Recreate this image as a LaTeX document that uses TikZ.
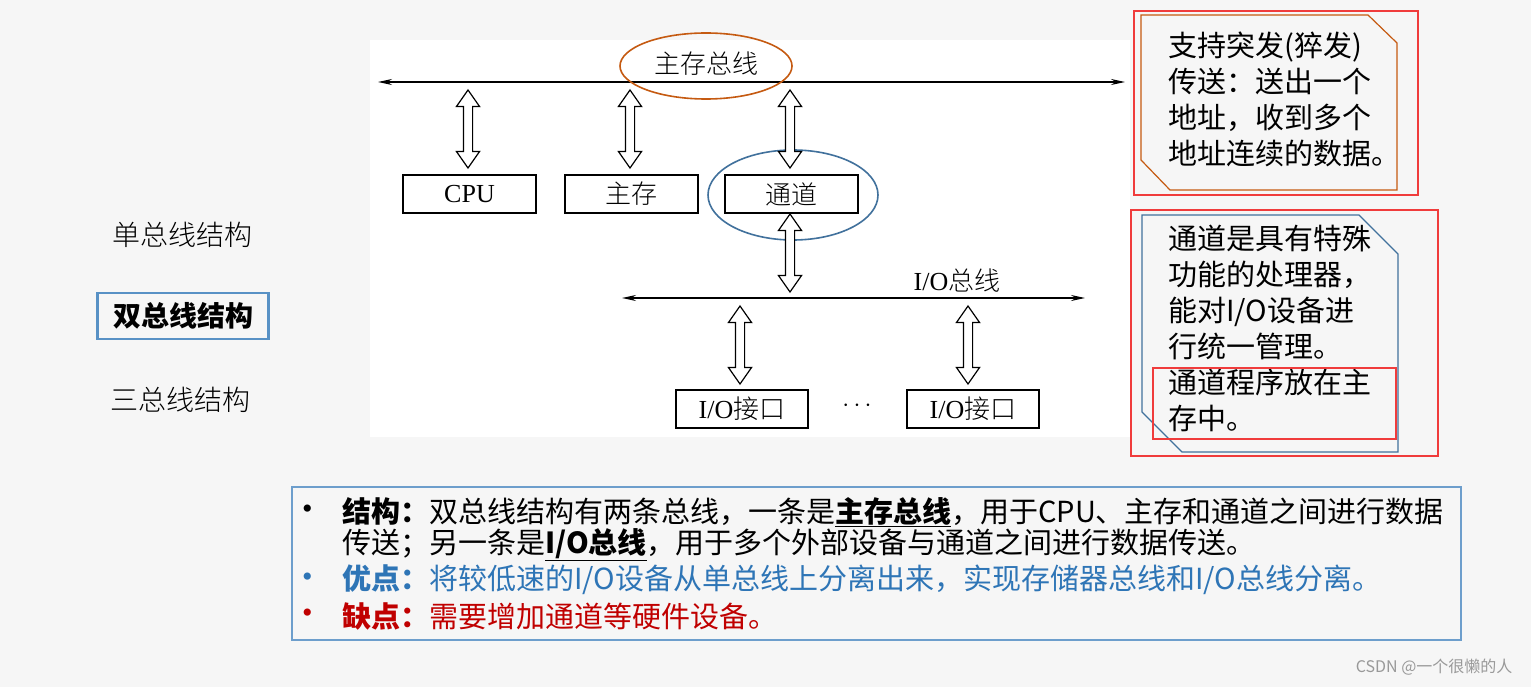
\documentclass[tikz,border=0pt]{standalone}
\usepackage{fontspec}
\setmainfont{Liberation Serif}
\newfontfamily\cjk{Noto Sans CJK SC}
\newfontfamily\cjkl{Noto Sans CJK SC Light}
\usetikzlibrary{shapes.arrows,arrows.meta}
\definecolor{bg}{HTML}{F6F6F6}
\definecolor{orng}{HTML}{C55A11}
\definecolor{blu}{HTML}{41719C}
\definecolor{redb}{HTML}{F03C3C}
\definecolor{txtblue}{HTML}{2E75B6}
\definecolor{txtred}{HTML}{C00000}
\begin{document}
\begin{tikzpicture}[x=1pt,y=-1pt,
  fat/.style={double arrow,draw,line width=1.2pt,fill=white,inner xsep=0pt,inner ysep=4pt,
     double arrow head extend=7pt,double arrow tip angle=70,rotate=90,minimum height=#1},
  box/.style={draw,line width=1.3pt,minimum width=133pt,minimum height=38pt,inner sep=0pt,font=\fontsize{26}{28}\selectfont},
  bus/.style={line width=1.3pt,{Stealth[length=14pt,width=6pt]}-{Stealth[length=14pt,width=6pt]}},
  lbl/.style={font=\cjkl\fontsize{28}{30}\selectfont},
  call/.style={align=left,anchor=north west,inner sep=0pt,font=\cjk\fontsize{29}{36}\selectfont},
  btxt/.style={anchor=west,inner sep=0pt,font=\cjk\fontsize{29}{30}\selectfont}]
\useasboundingbox (0,0) rectangle (1531,687);
\fill[bg] (0,0) rectangle (1531,687);
\fill[white] (370,40) rectangle (1130,437);
% main bus
\coordinate (mbL) at (378,82); \coordinate (mbR) at (1125,82);
\draw[bus] (mbL) -- (mbR);
\draw[orng,line width=1.6pt] (706,66) ellipse [x radius=86,y radius=33];
\node[font=\cjkl\fontsize{26}{28}\selectfont] (mbl) at (706,64) {主存总线};
% boxes
\node[box] (cpu) at (469.5,194) {CPU};
\node[box,font=\cjkl\fontsize{26}{28}\selectfont] (mem) at (631.5,194) {主存};
\node[box,font=\cjkl\fontsize{26}{28}\selectfont] (ch) at (791.5,194) {通道};
\draw[blu,line width=1.6pt] (793,195) ellipse [x radius=85,y radius=45];
\node[fat=78pt] (a1) at (468,129) {};
\node[fat=78pt] (a2) at (630,129) {};
\node[fat=78pt] (a3) at (790,129) {};
\node[fat=78pt] (a4) at (790,253) {};
% io bus
\coordinate (ibL) at (622,298); \coordinate (ibR) at (1085,298);
\draw[bus] (ibL) -- (ibR);
\node[font=\fontsize{26}{28}\selectfont] (ibl) at (957,281) {I/O{\cjkl 总线}};
\node[fat=78pt] (a5) at (740,345) {};
\node[fat=78pt] (a6) at (968,345) {};
\node[box,minimum width=132pt] (io1) at (742,409) {I/O{\cjkl 接口}};
\node[box,minimum width=132pt] (io2) at (973,409) {I/O{\cjkl 接口}};
\node[font=\bfseries\fontsize{26}{28}\selectfont] (dots) at (857,406) {$\cdots$};
% left
\node[lbl] (s1) at (182,235) {单总线结构};
\node[lbl,font=\cjk\bfseries\fontsize{28}{30}\selectfont,draw=txtblue!80,line width=2.5pt,minimum width=171pt,minimum height=46pt,inner sep=0pt] (s2) at (183,316) {双总线结构};
\node[lbl] (s3) at (180,400) {三总线结构};
% callout 1
\draw[redb,line width=2.2pt] (1134,11) rectangle (1418,195);
\draw[orng,line width=1.2pt] (1141,15) -- (1368,15) -- (1397,43) -- (1397,190) -- (1170,190) -- (1141,160) -- cycle;
\node[call] (c1) at (1168,32) {支持突发(猝发)\\传送：送出一个\\地址，收到多个\\地址连续的数据。};
% callout 2
\draw[redb,line width=2.2pt] (1131,210) rectangle (1438,456);
\draw[blu,line width=1.2pt] (1142,215) -- (1359,215) -- (1398,254) -- (1398,452) -- (1182,452) -- (1142,412) -- cycle;
\node[call] (c2) at (1168,225) {通道是具有特殊\\功能的处理器，\\能对I/O设备进\\行统一管理。\\通道程序放在主\\存中。};
\draw[redb,line width=2.2pt] (1153,368) rectangle (1396,439);
% bottom box
\draw[txtblue!70,line width=1.2pt] (292,487) rectangle (1461,640);
\node[btxt,font=\fontsize{30}{30}\selectfont] (b1) at (302,512) {•};
\node[btxt] (l1) at (342,512) {\textbf{结构：}双总线结构有两条总线，一条是\underline{\textbf{主存总线}}，用于CPU、主存和通道之间进行数据};
\node[btxt] (l2) at (342,545) {传送；另一条是\underline{\textbf{I/O总线}}，用于多个外部设备与通道之间进行数据传送。};
\node[btxt,text=txtblue,font=\fontsize{30}{30}\selectfont] (b3) at (302,580) {•};
\node[btxt,text=txtblue] (l3) at (342,580) {\textbf{优点：}将较低速的I/O设备从单总线上分离出来，实现存储器总线和I/O总线分离。};
\node[btxt,text=txtred,font=\fontsize{30}{30}\selectfont] (b4) at (302,616) {•};
\node[btxt,text=txtred] (l4) at (342,616) {\textbf{缺点：}需要增加通道等硬件设备。};
\node[anchor=east,text=gray!80,font=\cjk\fontsize{16}{18}\selectfont] (wm) at (1516,667) {CSDN @一个很懒的人};
\end{tikzpicture}
\end{document}
